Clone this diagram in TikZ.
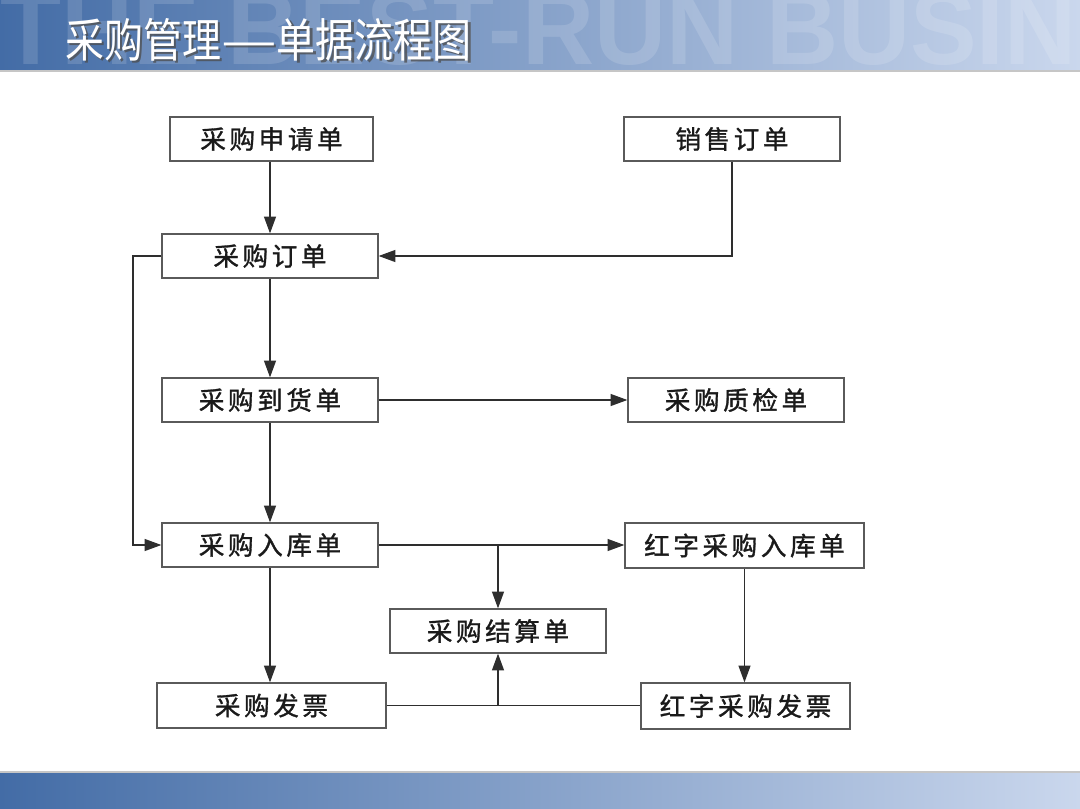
\documentclass[tikz,border=0pt]{standalone}
\usepackage{fontspec}
\usepackage{graphicx}
\setmainfont{Liberation Sans}
\newfontfamily\cjk{Noto Sans CJK SC}
\newfontfamily\cjksp[LetterSpace=14,FakeBold=1.2]{Noto Sans CJK SC}
\usetikzlibrary{arrows.meta}
\definecolor{hdrL}{HTML}{436CA6}
\definecolor{hdrM}{HTML}{8FA7CB}
\definecolor{hdrR}{HTML}{CAD7ED}
\definecolor{boxline}{HTML}{5A5A5A}
\definecolor{conn}{HTML}{2E2E2E}
\definecolor{txt}{HTML}{1A1A1A}
\tikzset{
  box/.style={draw=boxline, line width=0.9pt, fill=white, inner sep=0pt,
    minimum height={44*0.025cm}, font=\cjksp\fontsize{18.2}{20}\selectfont, text=txt},
  conline/.style={draw=conn, line width=0.9pt},
  arr/.style={conline, -{Triangle[length=0.42cm,width=0.3cm]}},
  wmark/.style={anchor=base west, inner sep=0pt, font=\fontsize{74}{74}\selectfont\bfseries},
  ttl/.style={anchor=base west, inner sep=0pt, font=\cjk\fontsize{33}{35}\selectfont}
}
\begin{document}
\begin{tikzpicture}[x=0.025cm,y=-0.025cm]
\useasboundingbox (0,0) rectangle (1080,809);
\fill[white] (0,0) rectangle (1080,809);
% header band
\shade[left color=hdrL, middle color=hdrM, right color=hdrR] (0,0) rectangle (1080,70);
\begin{scope}
  \clip (0,0) rectangle (1080,70);
  \node[wmark, text=white, opacity=0.14] (wm) at (0,64) {\scalebox{0.96}[1]{THE BEST-RUN BUSIN}};
\end{scope}
\fill[gray!45] (0,70) rectangle (1080,72);
\node[ttl, text=black!70, opacity=0.75] (titleshadow) at (67.5,59.5) {\scalebox{0.84}[1]{采购管理\scalebox{1.6}[1]{—}单据流程图}};
\node[ttl, text=white] (title) at (65,57) {\scalebox{0.84}[1]{采购管理\scalebox{1.6}[1]{—}单据流程图}};
% footer band
\shade[left color=hdrL, middle color=hdrM, right color=hdrR] (0,772) rectangle (1080,809);
\fill[gray!45] (0,771) rectangle (1080,772.5);
% boxes
\node[box, minimum width={203*0.025cm}] (sq) at (271.5,139) {采购申请单};
\node[box, minimum width={216*0.025cm}] (xs) at (732,139) {销售订单};
\node[box, minimum width={216*0.025cm}] (dd) at (270,256) {采购订单};
\node[box, minimum width={216*0.025cm}] (dh) at (270,400) {采购到货单};
\node[box, minimum width={216*0.025cm}] (zj) at (736,400) {采购质检单};
\node[box, minimum width={216*0.025cm}] (rk) at (270,545) {采购入库单};
\node[box, minimum width={239*0.025cm}, minimum height={45*0.025cm}] (hrk) at (744.5,545.5) {红字采购入库单};
\node[box, minimum width={216*0.025cm}] (js) at (498,631) {采购结算单};
\node[box, minimum width={229*0.025cm}, minimum height={45*0.025cm}] (fp) at (271.5,705.5) {采购发票};
\node[box, minimum width={209*0.025cm}, minimum height={46*0.025cm}] (hfp) at (745.5,706) {红字采购发票};
% connectors
\coordinate (lp) at (133,256);
\coordinate (j1) at (498,545);
\coordinate (j2) at (498,705.5);
\draw[arr] (sq.south -| dd.north) -- (dd.north);
\draw[arr] (xs.south) |- (dd.east);
\draw[arr] (dd.south) -- (dh.north);
\draw[arr] (dd.west) -- (lp) |- (rk.west);
\draw[arr] (dh.east) -- (dh.east -| zj.west);
\draw[arr] (dh.south) -- (rk.north);
\draw[arr] (rk.east) -- (rk.east -| hrk.west);
\draw[arr] (j1) -- (js.north);
\draw[arr] (rk.south) -- (rk.south |- fp.north);
\draw[arr] (hrk.south) -- (hrk.south |- hfp.north);
\draw[conline] (fp.east) -- (fp.east -| hfp.west);
\draw[arr] (j2) -- (js.south);
\end{tikzpicture}
\end{document}
